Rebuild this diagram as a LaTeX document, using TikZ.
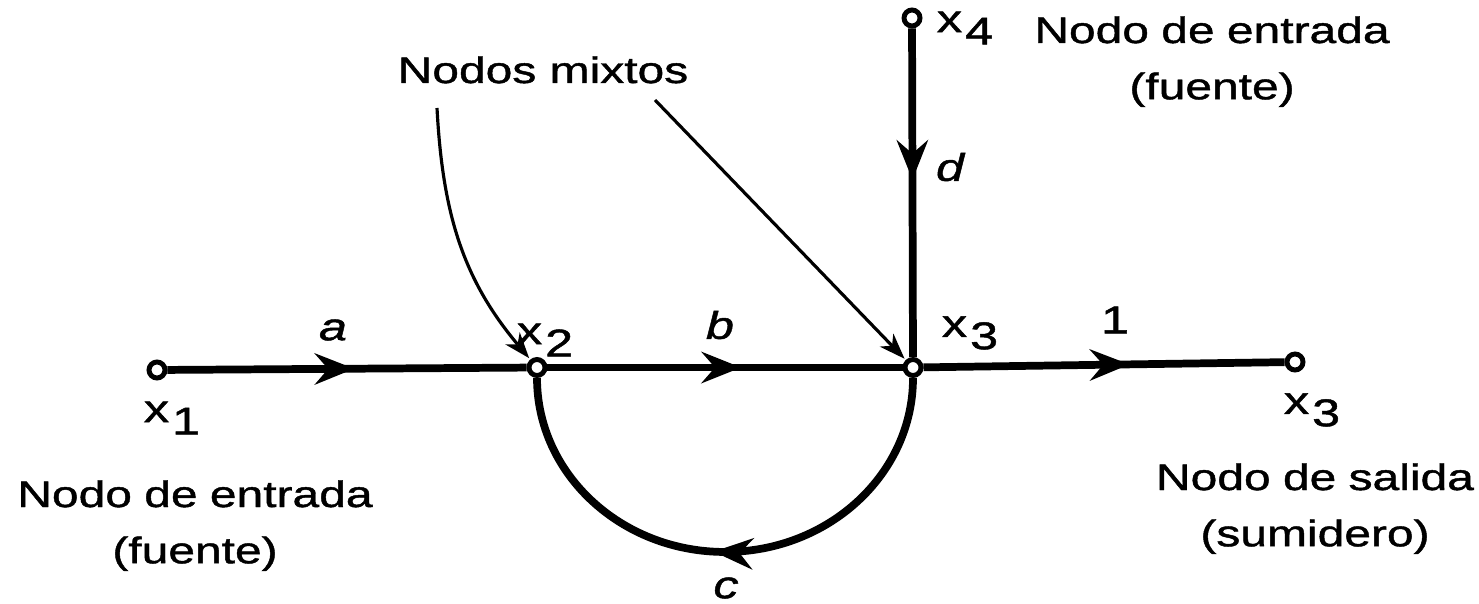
\documentclass[tikz,border=0pt]{standalone}
\usepackage{fontspec}
\setmainfont{Liberation Sans}[FakeStretch=1.3, FakeBold=1.2]
\usepackage{tikz}
\usetikzlibrary{arrows.meta, decorations.markings}
\newcommand{\xsub}[1]{x\kern0.08em\raisebox{-0.32em}{#1}}

\begin{document}
\begin{tikzpicture}[
  font=\fontsize{10.5}{16}\selectfont,
  signode/.style={circle, draw, line width=1.4pt, fill=white, inner sep=0pt, minimum size=1.6mm},
  gain/.style={font=\fontsize{11}{13}\selectfont\itshape, inner sep=0pt},
  varlabel/.style={font=\fontsize{11}{13}\selectfont, inner sep=0pt},
  caption/.style={align=center, text width=4cm, anchor=base, inner sep=0pt},
  branch/.style={line width=2.2pt, postaction={decorate},
    decoration={markings, mark=at position #1 with {\arrow{Stealth[length=4mm, width=3.2mm, inset=1.4mm, line width=0pt]}}}},
  pointer/.style={line width=0.9pt, -{Stealth[length=2.6mm, width=1.9mm, inset=0.8mm, line width=0pt]}, shorten >=0.5pt}
]
\useasboundingbox (0,0) rectangle (14.79,6.03);

\node[signode] (x1) at (1.57,2.33) {};
\node[signode] (x2) at (5.37,2.355) {};
\node[signode] (x3) at (9.13,2.355) {};
\node[signode] (x3out) at (12.95,2.41) {};
\node[signode] (x4) at (9.12,5.85) {};

\draw[branch=0.52] (x1) -- (x2);
\draw[branch=0.545] (x2) -- (x3);
\draw[branch=0.57] (x3) -- (x3out);
\draw[branch=0.46] (x4) -- (x3);
\draw[branch=0.52] (x3.south) arc[start angle=0, end angle=-180, x radius=1.88, y radius=1.74];

\node[gain] (ga) at (3.33,2.73) {a};
\node[gain] (gb) at (7.20,2.78) {b};
\node[varlabel] (g1) at (11.15,2.83) {1};
\node[gain] (gd) at (9.50,4.36) {d};
\node[gain] (gc) at (7.26,0.15) {c};

\node[varlabel] (lx1) at (1.72,1.85) {\xsub{1}};
\node[varlabel] (lx2) at (5.45,2.63) {\xsub{2}};
\node[varlabel] (lx3) at (9.70,2.70) {\xsub{3}};
\node[varlabel] (lx3out) at (13.12,1.93) {\xsub{3}};
\node[varlabel] (lx4) at (9.65,5.75) {\xsub{4}};

\node[caption] (srcleft) at (1.95,0.96) {Nodo de entrada\\(fuente)};
\node[caption] (srctop) at (12.12,5.60) {Nodo de entrada\\(fuente)};
\node[caption] (sink) at (13.15,1.13) {Nodo de salida\\(sumidero)};
\node[anchor=base, inner sep=0pt] (mixed) at (5.43,5.20) {Nodos mixtos};

\coordinate (mixL) at (4.37,4.95);
\coordinate (mixR) at (6.55,5.03);
\draw[pointer] (mixL) to[out=-87, in=130] (x2);
\draw[pointer] (mixR) -- (x3);
\end{tikzpicture}
\end{document}
